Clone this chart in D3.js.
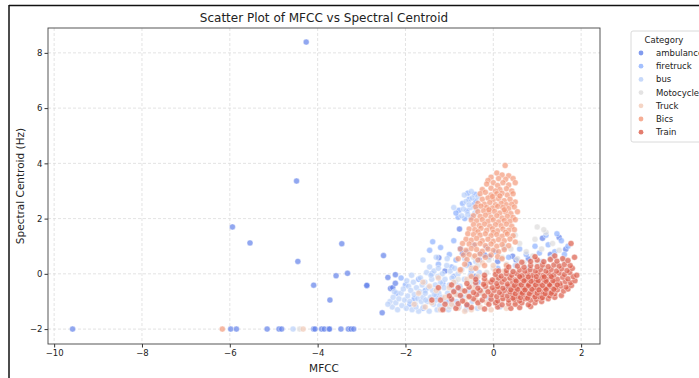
<!DOCTYPE html>
<html>
<meta charset="utf-8">
<title>Scatter Plot of MFCC vs Spectral Centroid</title>
<head>
  <script src="https://cdnjs.cloudflare.com/ajax/libs/d3/7.8.5/d3.min.js"></script>
  <style>
    body { margin: 0; background: #fff; font-family: "DejaVu Sans", sans-serif; }
  </style>
</head>
<body>
<script>
  // values, [mfcc, centroid]
  var categories = ["ambulance", "firetruck", "bus", "Motocycle", "Truck", "Bics", "Train"];
  var colors = ["#6282ea", "#8db0fe", "#b9d0f9", "#dddcdc", "#f2cbb7", "#f49a7b", "#dc5d4a"];
  var xTicks = [-10, -8, -6, -4, -2, 0, 2];
  var yTicks = [-2, 0, 2, 4, 6, 8];

  var ambulance = [[-9.58,-2.0],[-4.26,8.39],[-4.48,3.36],[-5.94,1.70],[-5.54,1.12],[-4.45,0.45],[-3.45,1.09],[-3.32,0.02],[-3.58,-0.07],[-4.09,-0.41],[-3.72,-0.95],[-2.88,-0.42],[-2.88,-0.42],
    [-5.98,-2],[-5.85,-2],[-5.15,-2],[-4.88,-2],[-4.82,-2],[-4.09,-2],[-4.06,-2],[-3.91,-2],[-3.85,-2],[-3.74,-2],[-3.73,-2],[-3.47,-2],[-3.30,-2],[-3.24,-2],[-3.18,-2],
    [-2.5,0.66],[-2.40,-0.13],[-2.23,-0.03],[-2.34,-0.53],[-2.29,-0.50],[-2.23,-0.34],[-2.53,-1.41],[-1.24,0.58],[-0.75,0.91],[-0.77,1.62],[-0.70,0.74],[-0.32,0.5],[-0.2,0.68],[-0.09,0.62],[0.44,0.64],[0.52,0.5],[1.12,1.29],[1.5,1.32],[1.65,0.89],[-1.1,0.1],[-0.55,0.35],[0.1,0.45],[0.8,0.55],[1.3,0.7],[-0.4,-0.1]];

  var firetruck = [[-0.8,2.05],[-0.65,2.0],[-0.5,2.05],[-0.78,2.3],[-0.6,2.28],[-0.45,2.5],[-0.7,2.55],[-0.55,2.7],[-0.4,2.65],[-0.58,2.92],[-0.42,2.88],[-0.85,2.2],
    [-1.38,1.16],[-1.45,0.85],[-1.2,0.95],[-1.0,0.7],[-0.9,1.2],[-0.85,0.5],[-0.6,0.8],[-0.45,1.05],[-0.3,0.75],[-0.15,0.95],[0.05,0.8],[0.25,0.95],[0.35,0.6],[0.6,0.9],[0.75,0.7],[0.95,1.0],[1.05,0.75],[1.25,1.05],[1.4,0.8],[1.55,1.2],[1.7,1.0],[1.62,0.7],[1.45,1.45],[1.2,1.4],
    [-2.2,-0.7],[-2.0,-0.4],[-1.8,-0.9],[-1.7,-0.2],[-1.55,-0.6],[-1.4,0.0],[-1.3,-0.8],[-1.15,-0.35],[-1.0,-1.0],[-0.9,-0.1],[-0.75,-0.55],[-0.6,-1.15],[-0.5,0.1],[-1.9,-1.1],[-1.6,-1.25],[-2.1,-0.15],[-1.25,0.35],[-0.95,0.25],[-0.35,-0.3],[0.1,0.2]];

  var bus = [[-4.56,-2],
    [-0.72,2.1],[-0.58,2.15],[-0.42,2.2],[-0.68,2.35],[-0.52,2.4],[-0.38,2.35],[-0.62,2.62],[-0.48,2.75],[-0.66,2.85],[-0.5,2.98],[-0.35,2.8],[-0.9,2.4],[-0.55,2.5],
    [-2.35,-1.0],[-2.3,-1.2],[-2.28,-0.85],[-2.22,-1.05],[-2.18,-1.3],[-2.15,-0.9],[-2.1,-0.7],[-2.08,-1.15],[-2.05,-0.55],[-2.02,-0.95],[-2.4,-1.1],[-2.25,-0.65],
    [-1.98,-1.25],[-1.95,-0.8],[-1.93,-0.45],[-1.9,-1.0],[-1.88,-0.6],[-1.85,-1.3],[-1.82,-0.3],[-1.8,-0.75],[-1.78,-1.1],[-1.75,-0.5],[-1.72,-0.9],[-1.7,-1.35],[-1.68,-0.65],[-1.66,-0.15],[-1.64,-1.0],[-1.62,-0.4],[-1.6,-0.85],[-1.97,-0.25],[-1.86,-0.05],[-1.76,-1.2],
    [-1.58,-1.2],[-1.56,-0.3],[-1.55,-0.7],[-1.52,0.05],[-1.5,-1.0],[-1.48,-0.5],[-1.46,-1.35],[-1.45,0.25],[-1.43,-0.85],[-1.4,-0.2],[-1.38,-0.6],[-1.36,-1.1],[-1.35,0.1],[-1.32,-0.4],[-1.3,-0.95],[-1.28,-1.3],[-1.26,-0.1],[-1.24,-0.7],[-1.22,-1.15],[-1.2,-0.3],[-1.54,-0.95],[-1.42,-0.05],[-1.34,-0.75],[-1.25,0.2],
    [-1.18,-0.85],[-1.16,0.0],[-1.14,-1.25],[-1.12,-0.5],[-1.1,-0.2],[-1.08,-1.0],[-1.06,0.3],[-1.04,-0.7],[-1.02,-1.3],[-1.0,-0.4],[-0.98,0.1],[-0.96,-0.9],[-0.94,-0.15],[-0.92,-1.15],[-0.9,-0.6],[-0.88,0.2],[-0.86,-0.3],[-0.84,-1.0],[-0.82,-0.75],[-0.8,0.0],
    [-0.78,-1.2],[-0.76,-0.45],[-0.72,0.15],[-0.7,-0.85],[-0.66,-0.2],[-0.62,-1.3],[-0.6,0.3],[-0.56,-0.6],[-0.52,-0.05],[-0.48,-1.0],[-0.44,0.2],[-0.4,-0.4],[-0.36,-1.25],[-0.32,0.05],[-0.3,-0.7],
    [-0.1,-0.9],[0.15,-1.2],[0.3,-0.5],[0.5,0.3],[0.8,0.2],[1.1,0.45],[1.35,0.6],
    [-1.6,0.5],[-1.3,0.6],[-1.05,0.55],[-0.65,0.55],[-0.4,0.45]];

  var motocycle = [[-4.41,-2],[-0.5,-0.3],[-0.35,0.3],[-0.2,-0.6],[-0.1,0.5],[0.0,0.2],[0.1,-0.2],[0.2,0.6],[0.3,0.35],[0.4,0.9],[0.45,0.1],[0.55,0.55],[0.6,1.1],[0.7,0.4],[0.75,0.8],[0.85,0.15],[0.9,0.65],[0.95,1.25],[1.0,0.4],[1.1,0.9],[1.15,0.2],[1.2,1.5],[1.3,0.55],[1.35,1.1],[1.45,0.35],[1.5,0.85],[1.6,0.5],[1.15,1.6],[0.25,1.0],[-0.3,-1.0],[-0.6,-0.8],[-0.8,-0.2],[-1.0,-1.2],[0.05,-1.0],[0.35,-0.8],[-0.15,0.05],[0.65,-0.1],[1.0,1.7],[0.5,1.4],[-0.45,0.6]];

  var truck = [[-4.33,-2],[-1.55,-1.2],[-1.4,-1.05],[-1.3,-0.6],[-1.2,-1.3],[-1.1,-0.85],[-1.0,-0.5],[-0.95,-1.1],[-0.9,-0.3],[-0.85,-0.75],[-0.8,-1.25],[-0.7,-0.6],[-0.65,-1.0],[-0.6,-0.2],[-0.55,-0.85],[-0.5,-1.3],[-0.45,-0.5],[-0.4,-0.95],[-0.35,-0.1],[-0.3,-1.2],[-0.25,-0.7],[-0.2,-0.35],[-0.15,-1.05],[-0.1,-0.55],[-0.05,-1.3],[0.0,-0.8],[0.05,-0.15],[0.1,-1.1],[0.15,-0.45],[0.2,-0.9],[0.3,-1.25],[0.35,-0.2],[0.4,-0.7],[0.5,-1.05],[0.55,-0.4],[-1.7,-0.7],[-1.6,-0.3],[-1.8,-1.1],[-0.75,0.1],[-0.5,0.2],[-0.25,0.4],[0.0,0.3],[-1.25,-0.15],[-1.45,-0.45],[0.25,0.1],[-0.65,-1.35]];

  var bics = [[-6.17,-2],
    [0.27,3.92],[0.08,3.65],[0.2,3.58],[0.35,3.55],[-0.05,3.5],[0.12,3.45],[0.28,3.42],[0.45,3.45],[-0.12,3.38],
    [-0.15,3.25],[0.0,3.3],[0.1,3.2],[0.22,3.3],[0.35,3.22],[0.5,3.3],[-0.05,3.1],[0.15,3.05],[0.3,3.08],[0.42,3.0],[-0.25,3.05],[0.05,3.0],
    [-0.3,2.9],[-0.18,2.95],[-0.05,2.85],[0.08,2.9],[0.2,2.92],[0.32,2.85],[0.45,2.9],[-0.25,2.7],[-0.12,2.75],[0.0,2.68],[0.12,2.72],[0.25,2.65],[0.38,2.7],[0.5,2.6],[-0.35,2.55],[-0.2,2.52],[-0.08,2.58],[0.05,2.5],[0.18,2.55],[0.3,2.5],[0.42,2.52],[-0.02,2.8],[0.15,2.82],
    [-0.4,2.42],[-0.28,2.45],[-0.15,2.4],[-0.02,2.38],[0.1,2.44],[0.22,2.4],[0.35,2.36],[0.48,2.42],[-0.35,2.25],[-0.22,2.28],[-0.1,2.22],[0.03,2.26],[0.15,2.2],[0.28,2.24],[0.4,2.18],[0.55,2.25],[-0.45,2.1],[-0.3,2.08],[-0.18,2.12],[-0.05,2.05],[0.08,2.1],[0.2,2.02],[0.32,2.08],[0.45,2.04],[-0.1,2.32],[0.25,2.32],
    [-0.5,1.95],[-0.38,1.92],[-0.25,1.96],[-0.12,1.9],[0.0,1.95],[0.12,1.88],[0.25,1.93],[0.38,1.9],[0.5,1.96],[-0.45,1.78],[-0.32,1.75],[-0.2,1.8],[-0.08,1.72],[0.05,1.78],[0.18,1.74],[0.3,1.8],[0.42,1.72],[-0.55,1.62],[-0.42,1.6],[-0.28,1.65],[-0.15,1.58],[-0.02,1.63],[0.1,1.56],[0.22,1.62],[0.35,1.58],[0.48,1.6],[-0.35,1.52],[0.0,1.5],[0.28,1.5],
    [-0.58,1.45],[-0.45,1.42],[-0.3,1.4],[-0.18,1.45],[-0.05,1.38],[0.08,1.42],[0.2,1.36],[0.32,1.44],[0.45,1.38],[-0.62,1.25],[-0.5,1.22],[-0.38,1.28],[-0.25,1.2],[-0.12,1.25],[0.0,1.18],[0.12,1.24],[0.25,1.2],[0.38,1.26],[-0.55,1.08],[-0.42,1.05],[-0.3,1.1],[-0.18,1.02],[-0.05,1.08],[0.08,1.0],[0.2,1.06],[0.35,1.02],[-0.7,1.1],[0.5,1.15],
    [-0.75,0.9],[-0.62,0.85],[-0.5,0.92],[-0.38,0.88],[-0.25,0.82],[-0.12,0.9],[0.0,0.85],[0.12,0.8],[0.25,0.88],[-0.68,0.68],[-0.55,0.7],[-0.42,0.65],[-0.3,0.72],[-0.18,0.6],[-0.05,0.68],[0.1,0.62],[-0.8,0.55],[-0.6,0.52],[-0.35,0.5],[0.2,0.55],
    [-0.65,0.35],[-0.4,0.2],[-0.2,0.3],[0.05,0.1],[-0.5,-0.1],[-0.15,-0.3],[0.1,-0.5],[0.3,0.3],[-0.75,0.15]];

  var train = [[-0.85,-1.25],[-0.5,-1.22],[-0.2,-1.27],[0.1,-1.2],[0.4,-1.25],[0.6,-1.22],[0.85,-1.18],
    [-1.1,-1.1],[-0.8,-1.08],[-0.6,-1.12],[-0.35,-1.05],[-0.1,-1.1],[0.05,-1.05],[0.2,-1.12],[0.35,-1.08],[0.5,-1.1],[0.65,-1.05],[0.8,-1.12],[0.95,-1.05],[1.1,-1.0],
    [-1.2,-0.95],[-0.95,-0.92],[-0.7,-0.98],[-0.45,-0.9],[-0.25,-0.95],[-0.05,-0.92],[0.1,-0.98],[0.22,-0.9],[0.35,-0.95],[0.48,-0.92],[0.6,-0.98],[0.72,-0.9],[0.85,-0.95],[0.98,-0.92],[1.1,-0.88],[1.25,-0.9],[1.4,-0.85],
    [-1.0,-0.8],[-0.75,-0.78],[-0.55,-0.82],[-0.38,-0.75],[-0.2,-0.8],[-0.05,-0.76],[0.08,-0.82],[0.2,-0.75],[0.32,-0.8],[0.44,-0.76],[0.56,-0.82],[0.68,-0.75],[0.8,-0.8],[0.92,-0.76],[1.04,-0.82],[1.16,-0.75],[1.28,-0.8],[1.4,-0.72],[1.55,-0.78],
    [-0.9,-0.65],[-0.65,-0.62],[-0.45,-0.68],[-0.3,-0.6],[-0.12,-0.65],[0.02,-0.6],[0.14,-0.67],[0.26,-0.6],[0.38,-0.65],[0.5,-0.6],[0.62,-0.67],[0.74,-0.6],[0.86,-0.65],[0.98,-0.6],[1.1,-0.66],[1.22,-0.6],[1.34,-0.65],[1.46,-0.58],[1.6,-0.62],[1.7,-0.55],
    [-0.8,-0.5],[-0.55,-0.48],[-0.35,-0.52],[-0.18,-0.45],[-0.02,-0.5],[0.1,-0.46],[0.22,-0.52],[0.34,-0.45],[0.46,-0.5],[0.58,-0.46],[0.7,-0.52],[0.82,-0.45],[0.94,-0.5],[1.06,-0.46],[1.18,-0.52],[1.3,-0.45],[1.42,-0.5],[1.54,-0.44],[1.66,-0.48],[1.78,-0.42],
    [-0.6,-0.35],[-0.4,-0.32],[-0.22,-0.38],[-0.05,-0.3],[0.08,-0.35],[0.2,-0.3],[0.32,-0.37],[0.44,-0.3],[0.56,-0.35],[0.68,-0.3],[0.8,-0.37],[0.92,-0.3],[1.04,-0.35],[1.16,-0.3],[1.28,-0.37],[1.4,-0.3],[1.52,-0.35],[1.64,-0.28],[1.76,-0.32],[1.86,-0.25],
    [-0.4,-0.2],[-0.2,-0.18],[-0.02,-0.22],[0.12,-0.15],[0.25,-0.2],[0.38,-0.15],[0.5,-0.22],[0.62,-0.15],[0.74,-0.2],[0.86,-0.15],[0.98,-0.22],[1.1,-0.15],[1.22,-0.2],[1.34,-0.14],[1.46,-0.2],[1.58,-0.12],[1.7,-0.18],[1.82,-0.1],
    [-0.2,-0.05],[0.05,-0.02],[0.18,-0.08],[0.3,0.0],[0.42,-0.05],[0.54,0.0],[0.66,-0.06],[0.78,0.0],[0.9,-0.05],[1.02,0.02],[1.14,-0.05],[1.26,0.02],[1.38,-0.04],[1.5,0.03],[1.62,-0.02],[1.74,0.05],
    [0.12,0.1],[0.3,0.12],[0.45,0.08],[0.6,0.14],[0.72,0.1],[0.84,0.15],[0.96,0.1],[1.08,0.16],[1.2,0.1],[1.32,0.16],[1.44,0.1],[1.56,0.18],[1.68,0.12],[1.8,0.2],
    [0.35,0.25],[0.55,0.28],[0.7,0.24],[0.85,0.3],[1.0,0.26],[1.12,0.32],[1.25,0.26],[1.38,0.32],[1.5,0.28],[1.62,0.34],[1.75,0.3],
    [0.65,0.42],[0.85,0.45],[1.0,0.5],[1.15,0.44],[1.3,0.52],[1.45,0.46],[1.58,0.55],[1.7,0.48],[0.95,0.62],[1.4,0.65],
    [1.77,1.1],[1.85,0.6],[-1.4,-0.95],[-1.25,-0.5],[1.9,-0.05],[-0.95,-0.4],[-1.15,-1.3],
    [0.45,-0.88],[0.62,-0.86],[0.78,-0.88],[0.95,-0.84],[1.12,-0.86],[0.5,-0.72],[0.66,-0.7],[0.82,-0.72],[1.0,-0.7],[1.18,-0.72],[1.32,-0.7],[0.4,-0.58],[0.55,-0.56],[0.72,-0.58],[0.88,-0.56],[1.04,-0.58],[1.2,-0.56],[1.38,-0.56],[0.48,-0.42],[0.64,-0.4],[0.8,-0.42],[0.96,-0.4],[1.12,-0.42],[1.28,-0.4],[1.46,-0.4],[0.52,-0.26],[0.7,-0.25],[0.86,-0.27],[1.02,-0.25],[1.2,-0.27],[1.36,-0.25],[0.6,-0.1],[0.8,-0.11],[0.98,-0.1],[1.16,-0.11],[1.32,-0.1]];

  var seriesList = [ambulance, firetruck, bus, motocycle, truck, bics, train];

  var W = 699, H = 378;
  var margin = {left: 48, right: 99, top: 28, bottom: 34};

  var svg = d3.select("body").append("svg")
      .attr("width", W)
      .attr("height", H);

  // screenshot frame lines
  svg.append("line").attr("x1", 9).attr("x2", W).attr("y1", 5.5).attr("y2", 5.5)
      .attr("stroke", "#111").attr("stroke-width", 1.5);
  svg.append("line").attr("x1", 9).attr("x2", 9).attr("y1", 5).attr("y2", H)
      .attr("stroke", "#111").attr("stroke-width", 1.5);

  var x = d3.scaleLinear().domain([-10.14, 2.43]).range([margin.left, W - margin.right]);
  var y = d3.scaleLinear().domain([-2.54, 8.9]).range([H - margin.bottom, margin.top]);

  // grid
  svg.append("g").selectAll("line").data(xTicks).enter().append("line")
      .attr("x1", function(d) { return x(d); })
      .attr("x2", function(d) { return x(d); })
      .attr("y1", margin.top).attr("y2", H - margin.bottom)
      .attr("stroke", "#dcdcdc").attr("stroke-width", 0.8).attr("stroke-dasharray", "3,2");
  svg.append("g").selectAll("line").data(yTicks).enter().append("line")
      .attr("y1", function(d) { return y(d); })
      .attr("y2", function(d) { return y(d); })
      .attr("x1", margin.left).attr("x2", W - margin.right)
      .attr("stroke", "#dcdcdc").attr("stroke-width", 0.8).attr("stroke-dasharray", "3,2");

  // points, drawn category by category
  var pts = [];
  seriesList.forEach(function(s, i) {
    s.forEach(function(p) { pts.push({x: p[0], y: p[1], c: i}); });
  });
  svg.append("g").selectAll("circle").data(pts).enter().append("circle")
      .attr("cx", function(d) { return x(d.x); })
      .attr("cy", function(d) { return y(d.y); })
      .attr("r", 3)
      .style("fill", function(d) { return colors[d.c]; })
      .style("fill-opacity", 0.7)
      .style("stroke", "#fff")
      .style("stroke-width", 0.4);

  // axes
  var xAxis = svg.append("g")
      .attr("transform", "translate(0," + (H - margin.bottom) + ")")
      .call(d3.axisBottom(x).tickValues(xTicks).tickSize(3.5).tickPadding(2)
        .tickFormat(function(d) { return d < 0 ? "\u2212" + Math.abs(d) : d; }));
  var yAxis = svg.append("g")
      .attr("transform", "translate(" + margin.left + ",0)")
      .call(d3.axisLeft(y).tickValues(yTicks).tickSize(3.5).tickPadding(2)
        .tickFormat(function(d) { return d < 0 ? "\u2212" + Math.abs(d) : d; }));
  [xAxis, yAxis].forEach(function(a) {
    a.select(".domain").remove();
    a.selectAll("line").attr("stroke", "#333");
    a.selectAll("text").attr("fill", "#222").style("font-size", "8.5px").style("font-family", "DejaVu Sans");
  });

  svg.append("rect")
      .attr("x", margin.left).attr("y", margin.top)
      .attr("width", W - margin.right - margin.left)
      .attr("height", H - margin.bottom - margin.top)
      .attr("fill", "none").attr("stroke", "#444").attr("stroke-width", 0.9);

  // labels
  svg.append("text")
      .attr("x", (margin.left + W - margin.right) / 2).attr("y", 22)
      .attr("text-anchor", "middle")
      .style("font-size", "12px").attr("fill", "#222")
      .text("Scatter Plot of MFCC vs Spectral Centroid");
  svg.append("text")
      .attr("x", (margin.left + W - margin.right) / 2).attr("y", 372)
      .attr("text-anchor", "middle")
      .style("font-size", "10.5px").attr("fill", "#222")
      .text("MFCC");
  svg.append("text")
      .attr("transform", "translate(24," + ((margin.top + H - margin.bottom) / 2) + ") rotate(-90)")
      .attr("text-anchor", "middle")
      .style("font-size", "10.5px").attr("fill", "#222")
      .text("Spectral Centroid (Hz)");

  // legend (cut at the right edge, as in the source)
  var lg = svg.append("g").attr("transform", "translate(631,31)");
  lg.append("rect").attr("width", 80).attr("height", 111).attr("rx", 2)
      .attr("fill", "#fff").attr("stroke", "#d0d0d0").attr("stroke-width", 0.8);
  lg.append("text").attr("x", 33).attr("y", 12).attr("text-anchor", "middle")
      .style("font-size", "8.5px").attr("fill", "#222").text("Category");
  var rows = lg.selectAll("g.row").data(categories).enter().append("g")
      .attr("class", "row")
      .attr("transform", function(d, i) { return "translate(0," + (22 + i * 13.2) + ")"; });
  rows.append("circle").attr("cx", 10).attr("cy", 0).attr("r", 2.4)
      .style("fill", function(d, i) { return colors[i]; }).style("fill-opacity", 0.8);
  rows.append("text").attr("x", 25).attr("y", 3)
      .style("font-size", "8.5px").attr("fill", "#222")
      .text(function(d) { return d; });
</script>
</body>
</html>
